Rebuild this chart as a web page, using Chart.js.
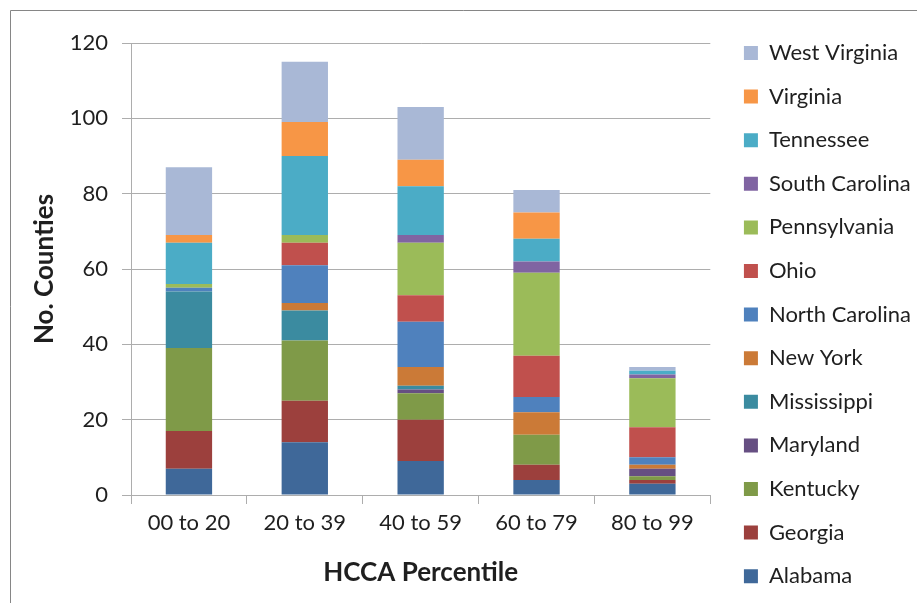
<!DOCTYPE html>
<html>
<head>
<meta charset="utf-8">
<script src="https://cdn.jsdelivr.net/npm/chart.js@4/dist/chart.umd.min.js"></script>
<style>
  html, body { margin: 0; padding: 0; background: #ffffff; }
  #wrap { width: 917px; height: 603px; position: relative; }
</style>
</head>
<body>
<div id="wrap"><canvas id="chart" width="917" height="603"></canvas></div>
<script>
// HCCA percentile bands
const categories = ['00 to 20', '20 to 39', '40 to 59', '60 to 79', '80 to 99'];

// Number of counties per state in each band (stacked bottom to top)
const alabama       = [7, 14, 9, 4, 3];
const georgia       = [10, 11, 11, 4, 1];
const kentucky      = [22, 16, 7, 8, 1];
const maryland      = [0, 0, 1, 0, 2];
const mississippi   = [15, 8, 1, 0, 0];
const newYork       = [0, 2, 5, 6, 1];
const northCarolina = [1, 10, 12, 4, 2];
const ohio          = [0, 6, 7, 11, 8];
const pennsylvania  = [1, 2, 14, 22, 13];
const southCarolina = [0, 0, 2, 3, 1];
const tennessee     = [11, 21, 13, 6, 1];
const virginia      = [2, 9, 7, 7, 0];
const westVirginia  = [18, 16, 14, 6, 1];

const stateNames = ['Alabama', 'Georgia', 'Kentucky', 'Maryland', 'Mississippi', 'New York',
  'North Carolina', 'Ohio', 'Pennsylvania', 'South Carolina', 'Tennessee', 'Virginia', 'West Virginia'];
const stateValues = [alabama, georgia, kentucky, maryland, mississippi, newYork,
  northCarolina, ohio, pennsylvania, southCarolina, tennessee, virginia, westVirginia];
const stateColors = ['#3F6899', '#9C403D', '#7F9A48', '#664F82', '#3B8BA0', '#CB7A37',
  '#4F81BD', '#C0504D', '#9BBB59', '#8064A2', '#4BACC6', '#F79646', '#A9B8D6'];

// Axis tick values
const yTicks = [0, 20, 40, 60, 80, 100, 120];

const FONT = 'Lato, "Open Sans", sans-serif';
const TEXT = '#1f1f1f';
const GRID = '#adadad';

// Thin frame around the chart area of the page
const frame = {
  id: 'frame',
  beforeDraw(chart) {
    const ctx = chart.ctx;
    ctx.save();
    ctx.fillStyle = '#ffffff';
    ctx.fillRect(0, 0, chart.width, chart.height);
    ctx.strokeStyle = '#868686';
    ctx.lineWidth = 1;
    ctx.beginPath();
    ctx.moveTo(10.5, chart.height);
    ctx.lineTo(10.5, 10.5);
    ctx.lineTo(chart.width, 10.5);
    ctx.stroke();
    ctx.restore();
  }
};

// Move the legend column slightly right and down from its default slot
const legendOffset = {
  id: 'legendOffset',
  afterLayout(chart) {
    const lg = chart.legend;
    if (!lg) return;
    lg.left += 12; lg.right += 12;
    lg.top += 20.4; lg.bottom += 20.4;
  }
};

new Chart(document.getElementById('chart'), {
  type: 'bar',
  data: {
    labels: categories,
    datasets: stateNames.map((name, i) => ({
      label: name,
      data: stateValues[i],
      backgroundColor: stateColors[i],
      borderWidth: 0,
      barPercentage: 0.4,
      categoryPercentage: 1.0
    }))
  },
  options: {
    responsive: false,
    animation: false,
    layout: { padding: { left: 11, right: 8, top: 0, bottom: 0 } },
    plugins: {
      tooltip: { enabled: false },
      legend: {
        position: 'right',
        align: 'start',
        reverse: true,
        labels: {
          boxWidth: 14,
          boxHeight: 14,
          padding: 21.6,
          color: TEXT,
          font: { family: FONT, size: 22 }
        }
      }
    },
    scales: {
      x: {
        stacked: true,
        grid: { display: true, drawOnChartArea: false, drawTicks: true, tickLength: 9, color: GRID, offset: true },
        border: { display: true, color: GRID, width: 1 },
        ticks: { color: TEXT, font: { family: FONT, size: 22 }, padding: 6, maxRotation: 0 },
        title: {
          display: true,
          text: 'HCCA Percentile',
          color: TEXT,
          font: { family: FONT, size: 26, weight: 'bold' },
          padding: { top: 0, bottom: 14.4 }
        },
        afterFit(scale) { scale.height = 108; }
      },
      y: {
        stacked: true,
        min: 0,
        max: 120,
        afterBuildTicks(scale) { scale.ticks = yTicks.map(v => ({ value: v })); },
        grid: { color: GRID, lineWidth: 1, tickLength: 9, drawTicks: true },
        border: { display: true, color: GRID, width: 1 },
        ticks: { color: TEXT, font: { family: FONT, size: 22 }, padding: 14 },
        title: {
          display: true,
          text: 'No. Counties',
          color: TEXT,
          font: { family: FONT, size: 26, weight: 'bold' },
          padding: { top: 18.4, bottom: 0 }
        },
        afterFit(scale) { scale.width = 120; scale.paddingTop = 43; }
      }
    }
  },
  plugins: [frame, legendOffset]
});
</script>
</body>
</html>
